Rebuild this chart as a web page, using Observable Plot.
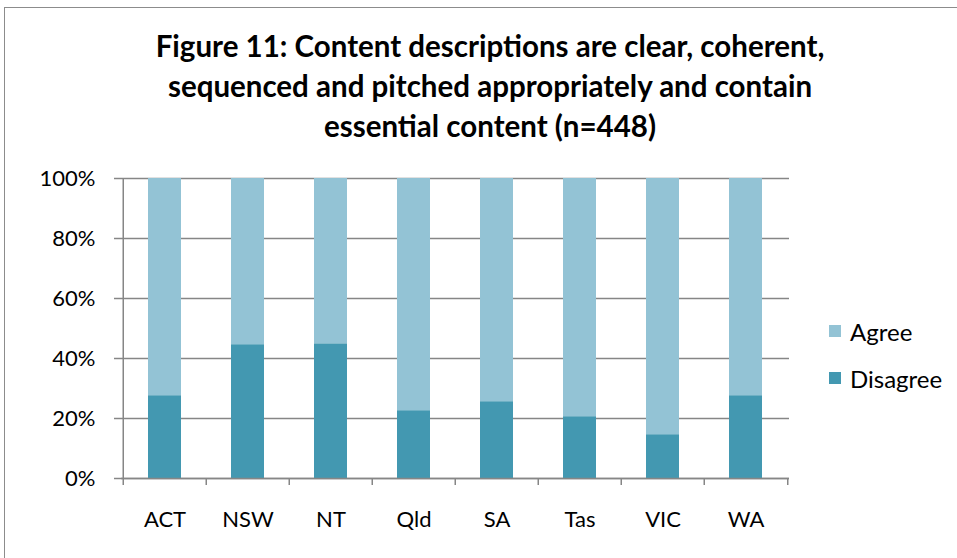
<!DOCTYPE html>
<html>
<head>
<meta charset="utf-8">
<script src="https://cdn.jsdelivr.net/npm/d3@7"></script>
<script src="https://cdn.jsdelivr.net/npm/@observablehq/plot@0.6"></script>
<style>
  html, body { margin: 0; padding: 0; background: #fff; overflow: hidden; }
  #wrap { position: relative; width: 957px; height: 558px; overflow: hidden; font-family: Lato, "Open Sans", sans-serif; }
  #frame { position: absolute; left: 4px; top: 7px; width: 1000px; height: 600px; border: 1px solid #8c8c8c; box-sizing: border-box; }
  #title { position: absolute; left: 0; top: 26px; width: 980px; text-align: center; font-weight: bold; font-size: 29.5px; line-height: 40px; color: #000; }
  #chart { position: absolute; left: 0; top: 160px; }
  #legend { position: absolute; left: 829px; top: 318px; font-size: 24px; color: #000; }
  .li { display: flex; align-items: center; height: 26px; margin-bottom: 21px; }
  .sw { width: 12px; height: 12px; margin-right: 9px; }
</style>
</head>
<body>
<div id="wrap">
  <div id="frame"></div>
  <div id="title">Figure 11: Content descriptions are clear, coherent,<br>sequenced and pitched appropriately and contain<br>essential content (n=448)</div>
  <div id="chart"></div>
  <div id="legend"></div>
</div>
<script>
const states = ["ACT", "NSW", "NT", "Qld", "SA", "Tas", "VIC", "WA"];
const disagree = [0.276, 0.446, 0.449, 0.226, 0.256, 0.206, 0.146, 0.276];
const agree = disagree.map(d => 1 - d);
const seriesNames = ["Disagree", "Agree"];
const seriesColors = ["#4398b1", "#93c3d5"];
const yTicks = [0, 0.2, 0.4, 0.6, 0.8, 1.0];

const rows = [];
states.forEach((s, i) => {
  rows.push({state: s, series: "Disagree", value: disagree[i]});
  rows.push({state: s, series: "Agree", value: agree[i]});
});

const W = 957, H = 398, ML = 121, MR = 168, MT = 18, MB = 80;
const halfStep = (W - ML - MR) / states.length / 2;
const grey = "#868686";

const chart = Plot.plot({
  width: W, height: H,
  marginLeft: ML, marginRight: MR, marginTop: MT, marginBottom: MB,
  style: {fontFamily: "Lato, 'Open Sans', sans-serif", background: "transparent", overflow: "visible"},
  x: {domain: states, paddingInner: 0.6, paddingOuter: 0.3},
  y: {domain: [0, 1]},
  color: {domain: seriesNames, range: seriesColors},
  marks: [
    Plot.gridY(yTicks, {stroke: grey, strokeOpacity: 1, strokeWidth: 1.5}),
    Plot.barY(rows, {x: "state", y: "value", fill: "series", order: seriesNames}),
    Plot.ruleY([0], {stroke: grey, strokeWidth: 1.5}),
    Plot.ruleX([states[0]], {dx: -halfStep, y1: 0, y2: 1, stroke: grey, strokeWidth: 1.5}),
    Plot.ruleX(states, {x: d => d, dx: -halfStep, y1: 0, y2: 0, insetBottom: -7, stroke: grey, strokeWidth: 1.5}),
    Plot.ruleX([states[states.length - 1]], {dx: halfStep, y1: 0, y2: 0, insetBottom: -7, stroke: grey, strokeWidth: 1.5}),
    Plot.axisY(yTicks, {tickSize: 7, tickPadding: 19, stroke: grey, strokeWidth: 1.5, tickFormat: d => Math.round(d * 100) + "%", fontSize: 22, fill: "#000", label: null}),
    Plot.axisX({tickSize: 0, tickPadding: 33, fontSize: 22, fill: "#000", label: null})
  ]
});
document.getElementById("chart").appendChild(chart);

const legend = document.getElementById("legend");
["Agree", "Disagree"].forEach(name => {
  const i = seriesNames.indexOf(name);
  const li = document.createElement("div");
  li.className = "li";
  li.innerHTML = `<div class="sw" style="background:${seriesColors[i]}"></div><span>${name}</span>`;
  legend.appendChild(li);
});
</script>
</body>
</html>
